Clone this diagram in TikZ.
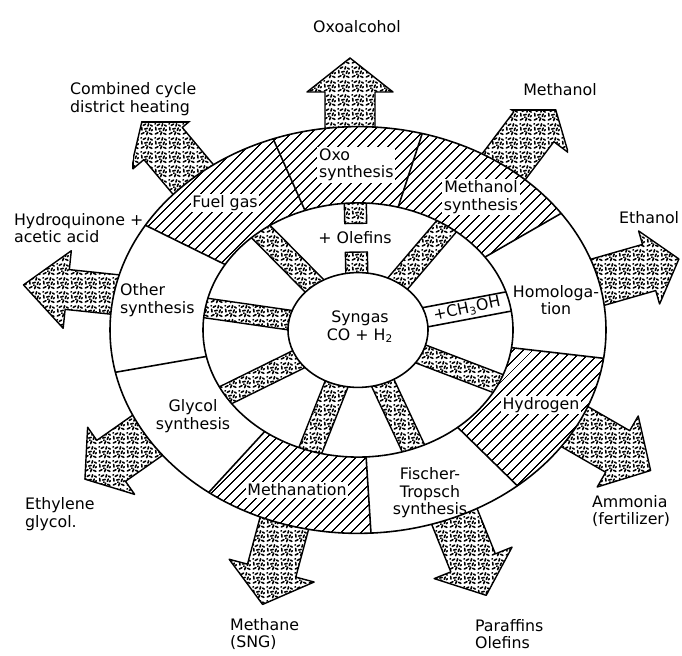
\documentclass[tikz,border=0pt]{standalone}
\usepackage{fontspec}
\setmainfont{DejaVu Sans}
\usepackage{tikz}
\usetikzlibrary{patterns,patterns.meta}

\pgfdeclarepatternformonly{stipple}{\pgfqpoint{0pt}{0pt}}{\pgfqpoint{8pt}{8pt}}{\pgfqpoint{8pt}{8pt}}{
  \pgfsetlinewidth{0.95pt}
  \pgfsetroundcap
  \pgfpathmoveto{\pgfqpoint{0.8pt}{1.2pt}}\pgfpathlineto{\pgfqpoint{2.4pt}{2.0pt}}
  \pgfpathmoveto{\pgfqpoint{4.0pt}{0.8pt}}\pgfpathlineto{\pgfqpoint{4.6pt}{2.4pt}}
  \pgfpathmoveto{\pgfqpoint{5.8pt}{1.6pt}}\pgfpathlineto{\pgfqpoint{7.2pt}{1.0pt}}
  \pgfpathmoveto{\pgfqpoint{1.2pt}{3.6pt}}\pgfpathlineto{\pgfqpoint{1.0pt}{5.2pt}}
  \pgfpathmoveto{\pgfqpoint{2.8pt}{4.2pt}}\pgfpathlineto{\pgfqpoint{4.4pt}{4.6pt}}
  \pgfpathmoveto{\pgfqpoint{5.6pt}{3.4pt}}\pgfpathlineto{\pgfqpoint{6.2pt}{4.8pt}}
  \pgfpathmoveto{\pgfqpoint{7.0pt}{3.2pt}}\pgfpathlineto{\pgfqpoint{7.4pt}{3.8pt}}
  \pgfpathmoveto{\pgfqpoint{2.0pt}{6.4pt}}\pgfpathlineto{\pgfqpoint{3.4pt}{7.2pt}}
  \pgfpathmoveto{\pgfqpoint{4.8pt}{6.0pt}}\pgfpathlineto{\pgfqpoint{5.2pt}{7.4pt}}
  \pgfpathmoveto{\pgfqpoint{6.4pt}{6.6pt}}\pgfpathlineto{\pgfqpoint{7.4pt}{6.0pt}}
  \pgfpathmoveto{\pgfqpoint{0.6pt}{7.2pt}}\pgfpathlineto{\pgfqpoint{0.9pt}{7.4pt}}
  \pgfpathmoveto{\pgfqpoint{3.4pt}{2.8pt}}\pgfpathlineto{\pgfqpoint{3.6pt}{3.0pt}}
  \pgfusepath{stroke}
}

\begin{document}
\begin{tikzpicture}[x=0.02cm,y=0.02cm,
    stip/.style={draw,line width=0.8pt,pattern=stipple,line join=round},
    hatch/.style={pattern={Lines[angle=45,distance=4pt,line width=0.75pt]}},
    ring/.style={draw,line width=0.9pt},
    lab/.style={font=\fontsize{9}{10}\selectfont,align=center,inner sep=1pt},
    tag/.style={lab,fill=white}]
  \useasboundingbox (0,0) rectangle (682,655);

  % product arrows (some cut off square, as printed)
  \foreach \px/\py/\d/\ls/\lh/\w/\h/\xa/\ya/\xb/\yb in {
      350/527/90/36/34/25/43/0/0/682/655,
      505/490/53/48/32/25/43/0/0/568/545,
      192/477/130/45/32/25/43/133/0/682/533,
      602/374/16/49/31/24/38/0/0/682/655,
      110/361/174/43/44/20/39/0/0/682/655,
      148/220/215/45/32/25/41/0/0/682/655,
      282/123/255/40/35/25/44/0/0/682/655,
      457/132/292/43/35/24/42/0/0/682/655,
      577/227/330/47/38/24/41/0/0/682/655}
  {
    \begin{scope}
      \clip (\xa,\ya) rectangle (\xb,\yb);
      \draw[stip,shift={(\px,\py)},rotate=\d] (-14,-\w) -- (\ls,-\w) -- (\ls,-\h) -- (\ls+\lh,0) -- (\ls,\h) -- (\ls,\w) -- (-14,\w) -- cycle;
    \end{scope}
    \begin{scope}[shift={(\px,\py)},rotate=\d]
      \clip (-14,-\w) -- (\ls,-\w) -- (\ls,-\h) -- (\ls+\lh,0) -- (\ls,\h) -- (\ls,\w) -- (-14,\w) -- cycle;
      \draw[line width=1.6pt,reset cm] (\xa,\ya) rectangle (\xb,\yb);
    \end{scope}
  }

  % outer ring, middle ring with spokes, syngas core
  \begin{scope}[shift={(358,325)},yscale=0.82]
    \fill[white] (0,0) circle (248);
    \foreach \a/\b in {35/149,233/273,310/352}
      \fill[hatch] (\a:248) arc[start angle=\a,end angle=\b,radius=248] -- (\b:155) arc[start angle=\b,end angle=\a,radius=155] -- cycle;
    \draw[ring] (0,0) circle (248);
    \foreach \a in {-8,35,75,110,149,192,233,273,310}
      \draw[ring] (\a:155) -- (\a:248);
    \fill[white] (0,0) circle (155);
    \begin{scope}
      \clip (155,0) arc[start angle=0,end angle=360,radius=155] -- cycle
            (70,0) arc[start angle=360,end angle=0,radius=70] -- cycle;
      \foreach \a in {55,-25,-69,-108,-149,170,129}
        \draw[stip,rotate=\a] (60,-12) rectangle (165,12);
      \draw[ring,fill=white,rotate=13] (60,-12) rectangle (165,12);
      \draw[stip,rotate=91] (130,-11) rectangle (165,11);
      \draw[stip,rotate=91] (60,-11) rectangle (95,11);
    \end{scope}
    \draw[ring] (0,0) circle (155);
    \draw[ring,fill=white] (0,0) circle (70);
  \end{scope}

  % products
  \node[lab] (oxoalc) at (357,628) {Oxoalcohol};
  \node[lab,align=left,anchor=west] (ccycle) at (68,556) {Combined cycle\\district heating};
  \node[lab] (meoh) at (560,565) {Methanol};
  \node[lab,anchor=west] (etoh) at (617,437) {Ethanol};
  \node[lab,align=left,anchor=west] (hydroq) at (12,427) {Hydroquinone +\\acetic acid};
  \node[lab,align=left,anchor=west] (eglyc) at (23,141) {Ethylene\\glycol.};
  \node[lab,align=left,anchor=west] (sng) at (228,21) {Methane\\(SNG)};
  \node[lab,align=left,anchor=west] (paraf) at (473,21) {Paraffins\\Olefins};
  \node[lab,align=left,anchor=west] (nh3) at (590,144) {Ammonia\\(fertilizer)};

  % processes
  \node[tag,align=left,anchor=west] (oxo) at (317,490) {Oxo\\synthesis};
  \node[tag] (fuel) at (225,452) {Fuel gas};
  \node[tag] (meohs) at (481,458) {Methanol\\synthesis};
  \node[lab] (homol) at (556,355) {Homologa-\\tion};
  \node[tag] (h2) at (541,250) {Hydrogen};
  \node[lab] (ft) at (430,162) {Fischer-\\Tropsch\\synthesis};
  \node[tag] (methan) at (297,165) {Methanation};
  \node[lab] (glycol) at (193,239) {Glycol\\synthesis};
  \node[lab,align=left,anchor=west] (other) at (118,355) {Other\\synthesis};
  \node[lab] (syngas) at (360,328) {Syngas\\CO + H\textsubscript{2}};
  \node[lab] (olef) at (355,417) {+ Olefins};
  \node[lab,rotate=12] (ch3oh) at (467,346) {+CH\textsubscript{3}OH};
\end{tikzpicture}
\end{document}
